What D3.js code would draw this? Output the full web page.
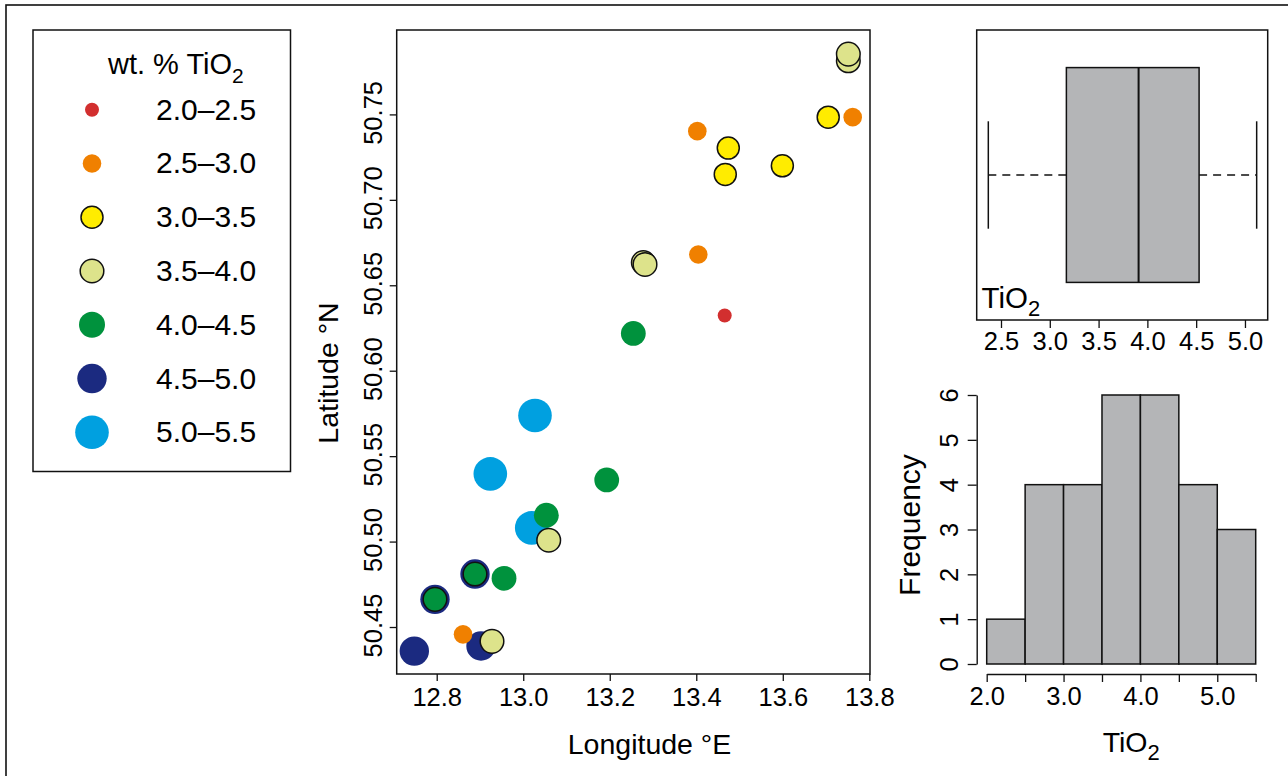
<!DOCTYPE html>
<html>
<head>
<meta charset="utf-8">
<script src="https://cdn.jsdelivr.net/npm/d3@7"></script>
<style>
  html, body { margin: 0; padding: 0; background: #fff; }
  svg { display: block; font-family: "Liberation Sans", Arial, Helvetica, sans-serif; }
</style>
</head>
<body>
<svg id="chart" width="1288" height="776"></svg>
<script>
// ---------------- DATA ----------------
const classLabels = ["2.0–2.5", "2.5–3.0", "3.0–3.5", "3.5–4.0", "4.0–4.5", "4.5–5.0", "5.0–5.5"];
const classColors = ["#d22f2f", "#f08000", "#ffec00", "#dde38b", "#00923d", "#1b2a80", "#00a0e0"];
const classRadius = [7, 9.3, 11, 11.8, 12.4, 14.7, 16.8];
const outlinedClasses = [2, 3];

// sample points: longitude, latitude, TiO2 class index
const lon = [13.7515, 13.7515, 13.705, 13.7616, 13.4024, 13.474, 13.467, 13.599, 13.2776, 13.2815,
             13.4047, 13.4657, 13.2545, 13.0272, 12.9239, 13.193, 13.0196, 13.0534, 13.0589, 12.8885,
             12.8885, 12.9556, 12.796, 12.796, 12.8608, 12.9024, 12.9278, 12.7482];
const lat = [50.7814, 50.7853, 50.7484, 50.7484, 50.7402, 50.7303, 50.7149, 50.7199, 50.6633, 50.6622,
             50.668, 50.6323, 50.6218, 50.5738, 50.5396, 50.5361, 50.508, 50.5154, 50.5008, 50.481,
             50.481, 50.4785, 50.4662, 50.4662, 50.4457, 50.4389, 50.4416, 50.4359];
const cls = [3, 3, 2, 1, 1, 2, 2, 2, 3, 3,
             1, 0, 4, 6, 6, 4, 6, 4, 3, 5,
             4, 4, 5, 4, 1, 5, 3, 5];

const lonTicks = [12.8, 13.0, 13.2, 13.4, 13.6, 13.8];
const latTicks = [50.45, 50.50, 50.55, 50.60, 50.65, 50.70, 50.75];

// box plot summary of TiO2: min, Q1, median, Q3, max
const boxStats = [2.37, 3.17, 3.91, 4.53, 5.12];
const boxTicks = [2.5, 3.0, 3.5, 4.0, 4.5, 5.0];

// histogram of TiO2
const binEdges = [2.0, 2.5, 3.0, 3.5, 4.0, 4.5, 5.0, 5.5];
const binCounts = [1, 4, 4, 6, 6, 4, 3];
const histYTicks = [0, 1, 2, 3, 4, 5, 6];
const histXLabels = [2.0, 3.0, 4.0, 5.0];

// ---------------- DRAW ----------------
const svg = d3.select("#chart");
const FONT_TICK = 25.5;
const GREY = "#b4b5b7";
const INK = "#000";

// outer frame
svg.append("rect").attr("x", 6).attr("y", 5).attr("width", 1300).attr("height", 800)
  .attr("fill", "none").attr("stroke", "#111").attr("stroke-width", 1.6);

// ---- legend ----
const lg = svg.append("g");
lg.append("rect").attr("x", 33).attr("y", 30).attr("width", 257.5).attr("height", 441.5)
  .attr("fill", "#fff").attr("stroke", "#111").attr("stroke-width", 1.5);
const lt = lg.append("text").attr("x", 108).attr("y", 74).attr("font-size", 29).attr("fill", INK);
lt.append("tspan").text("wt. % TiO");
lt.append("tspan").attr("dy", 9).attr("font-size", 21).text("2");
const rowY = d3.scaleLinear().domain([0, 6]).range([109.7, 432.3]);
classLabels.forEach((lab, i) => {
  lg.append("circle").attr("cx", 92).attr("cy", rowY(i)).attr("r", i === 4 ? 13 : classRadius[i])
    .attr("fill", classColors[i])
    .attr("stroke", outlinedClasses.includes(i) ? "#111" : "none").attr("stroke-width", 1.5);
  lg.append("text").attr("x", 156).attr("y", rowY(i) + 10).attr("font-size", 30).attr("fill", INK).text(lab);
});

// ---- scatter ----
const sx = d3.scaleLinear().domain([12.7075, 13.8016]).range([396.7, 870]);
const sy = d3.scaleLinear().domain([50.4225, 50.7994]).range([674, 30]);

const xAx = svg.append("g").attr("transform", "translate(0,674)")
  .call(d3.axisBottom(sx).tickValues(lonTicks).tickFormat(d3.format(".1f")).tickSize(7).tickSizeOuter(0));
xAx.select(".domain").remove();
xAx.selectAll("line").attr("stroke", "#111").attr("stroke-width", 1.3);
xAx.selectAll("text").attr("font-size", FONT_TICK).attr("font-family", "Liberation Sans, Arial, sans-serif")
  .attr("fill", INK).attr("dy", null).attr("y", 31.5);

const yAx = svg.append("g").attr("transform", "translate(396.7,0)")
  .call(d3.axisLeft(sy).tickValues(latTicks).tickFormat(d3.format(".2f")).tickSize(7).tickSizeOuter(0));
yAx.select(".domain").remove();
yAx.selectAll("line").attr("stroke", "#111").attr("stroke-width", 1.3);
yAx.selectAll("text").attr("font-size", FONT_TICK).attr("font-family", "Liberation Sans, Arial, sans-serif")
  .attr("fill", INK).attr("dy", null).attr("x", null).attr("y", null)
  .attr("text-anchor", "middle").attr("transform", "translate(-15,-2) rotate(-90)");

svg.append("rect").attr("x", 396.7).attr("y", 30).attr("width", 870 - 396.7).attr("height", 644)
  .attr("fill", "none").attr("stroke", "#111").attr("stroke-width", 1.5);

const pts = lon.map((d, i) => ({ lon: d, lat: lat[i], c: cls[i], i }));
// a point sitting exactly on a larger-class point is outlined
pts.forEach(p => {
  p.ringed = pts.some(q => q !== p && q.c > p.c && Math.abs(q.lon - p.lon) < 1e-6 && Math.abs(q.lat - p.lat) < 1e-6);
});
const order = pts.slice().sort((a, b) => (b.c - a.c) || (a.i - b.i));
svg.append("g").selectAll("circle").data(order).join("circle")
  .attr("cx", d => sx(d.lon)).attr("cy", d => sy(d.lat))
  .attr("r", d => d.ringed ? classRadius[d.c] - 0.6 : classRadius[d.c])
  .attr("fill", d => classColors[d.c])
  .attr("stroke", d => (outlinedClasses.includes(d.c) || d.ringed) ? "#111" : "none")
  .attr("stroke-width", 1.5);

svg.append("text").attr("x", 649.5).attr("y", 754).attr("text-anchor", "middle")
  .attr("font-size", 28.5).attr("fill", INK).text("Longitude °E");
svg.append("text").attr("transform", "translate(338,373) rotate(-90)").attr("text-anchor", "middle")
  .attr("font-size", 28.5).attr("fill", INK).text("Latitude °N");

// ---- boxplot ----
const bx = d3.scaleLinear().domain([2.251, 5.233]).range([976.7, 1267.7]);
const by = d3.scaleLinear().domain([0.46, 1.54]).range([320, 30]);
const bg = svg.append("g");
bg.append("line").attr("x1", bx(boxStats[0])).attr("x2", bx(boxStats[1])).attr("y1", by(1)).attr("y2", by(1))
  .attr("stroke", "#111").attr("stroke-width", 1.3).attr("stroke-dasharray", "8,6");
bg.append("line").attr("x1", bx(boxStats[3])).attr("x2", bx(boxStats[4])).attr("y1", by(1)).attr("y2", by(1))
  .attr("stroke", "#111").attr("stroke-width", 1.3).attr("stroke-dasharray", "8,6");
[boxStats[0], boxStats[4]].forEach(v => {
  bg.append("line").attr("x1", bx(v)).attr("x2", bx(v)).attr("y1", by(0.8)).attr("y2", by(1.2))
    .attr("stroke", "#111").attr("stroke-width", 1.5);
});
bg.append("rect").attr("x", bx(boxStats[1])).attr("y", by(1.4))
  .attr("width", bx(boxStats[3]) - bx(boxStats[1])).attr("height", by(0.6) - by(1.4))
  .attr("fill", GREY).attr("stroke", "#111").attr("stroke-width", 1.5);
bg.append("line").attr("x1", bx(boxStats[2])).attr("x2", bx(boxStats[2])).attr("y1", by(1.4)).attr("y2", by(0.6))
  .attr("stroke", "#111").attr("stroke-width", 2);
const bAx = svg.append("g").attr("transform", "translate(0,320)")
  .call(d3.axisBottom(bx).tickValues(boxTicks).tickFormat(d3.format(".1f")).tickSize(8).tickSizeOuter(0));
bAx.select(".domain").remove();
bAx.selectAll("line").attr("stroke", "#111").attr("stroke-width", 1.3);
bAx.selectAll("text").attr("font-size", FONT_TICK).attr("font-family", "Liberation Sans, Arial, sans-serif")
  .attr("fill", INK).attr("dy", null).attr("y", 30);
svg.append("rect").attr("x", 976.7).attr("y", 30).attr("width", 291).attr("height", 290)
  .attr("fill", "none").attr("stroke", "#111").attr("stroke-width", 1.5);
const bt = svg.append("text").attr("x", 981.5).attr("y", 308).attr("font-size", 29.5).attr("fill", INK);
bt.append("tspan").text("TiO");
bt.append("tspan").attr("dy", 8).attr("font-size", 22).text("2");

// ---- histogram ----
const hx = d3.scaleLinear().domain([2.0, 5.5]).range([986.7, 1255.7]);
const hy = d3.scaleLinear().domain([0, 6]).range([664, 395]);
const bins = binCounts.map((c, i) => ({ x0: binEdges[i], x1: binEdges[i + 1], c }));
svg.append("g").selectAll("rect").data(bins).join("rect")
  .attr("x", d => hx(d.x0)).attr("y", d => hy(d.c))
  .attr("width", d => hx(d.x1) - hx(d.x0)).attr("height", d => hy(0) - hy(d.c))
  .attr("fill", GREY).attr("stroke", "#111").attr("stroke-width", 1.5);

const hxAx = svg.append("g").attr("transform", "translate(0,674)")
  .call(d3.axisBottom(hx).tickValues(binEdges)
    .tickFormat(d => histXLabels.includes(d) ? d3.format(".1f")(d) : "").tickSize(8).tickSizeOuter(0));
hxAx.select(".domain").attr("stroke", "#111").attr("stroke-width", 1.4);
hxAx.selectAll("line").attr("stroke", "#111").attr("stroke-width", 1.3);
hxAx.selectAll("text").attr("font-size", FONT_TICK).attr("font-family", "Liberation Sans, Arial, sans-serif")
  .attr("fill", INK).attr("dy", null).attr("y", 31);

const hyAx = svg.append("g").attr("transform", "translate(976.7,0)")
  .call(d3.axisLeft(hy).tickValues(histYTicks).tickFormat(d3.format("d")).tickSize(9).tickSizeOuter(0));
hyAx.select(".domain").attr("stroke", "#111").attr("stroke-width", 1.4);
hyAx.selectAll("line").attr("stroke", "#111").attr("stroke-width", 1.3);
hyAx.selectAll("text").attr("font-size", FONT_TICK).attr("font-family", "Liberation Sans, Arial, sans-serif")
  .attr("fill", INK).attr("dy", null).attr("x", null).attr("y", null)
  .attr("text-anchor", "middle").attr("transform", "translate(-18.4,0) rotate(-90)");

svg.append("text").attr("transform", "translate(920,525) rotate(-90)").attr("text-anchor", "middle")
  .attr("font-size", 30).attr("fill", INK).text("Frequency");
const ht = svg.append("text").attr("x", 1102.7).attr("y", 752).attr("font-size", 28.5).attr("fill", INK);
ht.append("tspan").text("TiO");
ht.append("tspan").attr("dy", 8).attr("font-size", 22).text("2");
</script>
</body>
</html>
